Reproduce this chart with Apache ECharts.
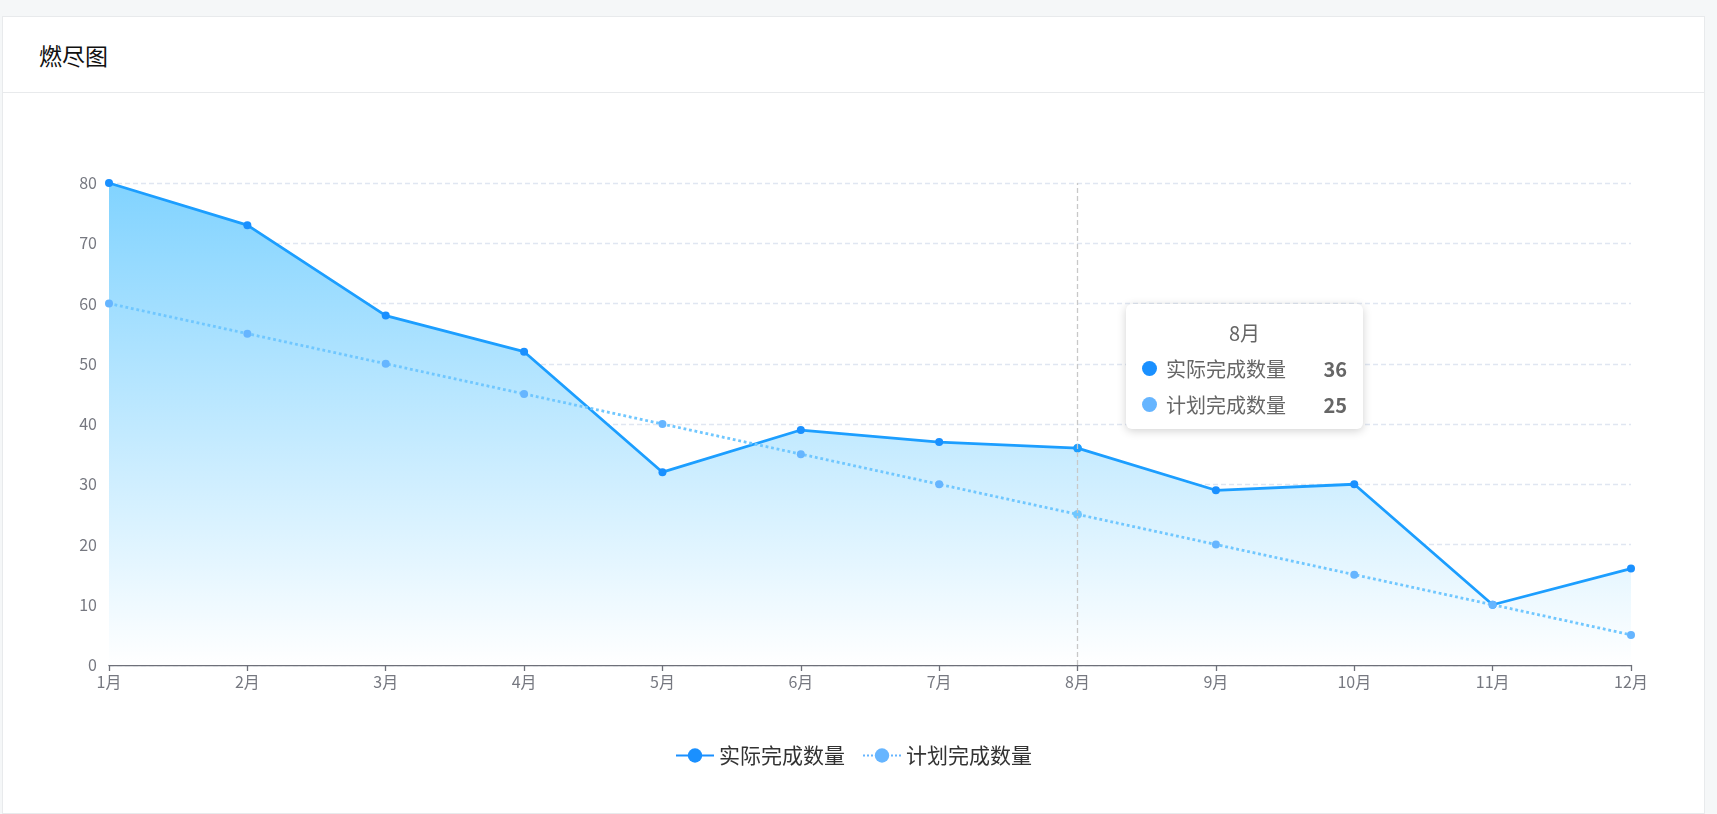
<!DOCTYPE html>
<html>
<head>
<meta charset="utf-8">
<script src="https://cdn.jsdelivr.net/npm/echarts@6/dist/echarts.min.js"></script>
<style>
  html, body { margin: 0; padding: 0; width: 1717px; height: 814px; background: #f5f7f8; overflow: hidden; font-family: "Noto Sans CJK SC", "Noto Sans", sans-serif; }
  #card { position: absolute; left: 2px; top: 16px; width: 1701px; height: 796px; background: #fff; border: 1px solid #e8eaec; }
  #header { position: absolute; left: 0; top: 0; width: 1701px; height: 75px; border-bottom: 1px solid #e8eaec; }
  #title { position: absolute; left: 36px; top: 22px; font-size: 23px; line-height: 32px; color: #111; }
  #chart { position: absolute; left: 0px; top: 76px; width: 1701px; height: 720px; }
</style>
</head>
<body>
<div id="card">
  <div id="header"><div id="title">燃尽图</div></div>
  <div id="chart"></div>
</div>
<script>
const categories = ['1月','2月','3月','4月','5月','6月','7月','8月','9月','10月','11月','12月'];
const actualValues = [80, 73, 58, 52, 32, 39, 37, 36, 29, 30, 10, 16];
const planValues = [60, 55, 50, 45, 40, 35, 30, 25, 20, 15, 10, 5];
const seriesNames = ['实际完成数量', '计划完成数量'];
const yTicks = { min: 0, max: 80, interval: 10 };

const colorActual = '#1a90ff';
const colorPlan = '#66b5ff';
const font = '"Noto Sans CJK SC", "Noto Sans", sans-serif';

const chart = echarts.init(document.getElementById('chart'));
chart.setOption({
  animation: false,
  textStyle: { fontFamily: font },
  grid: { left: 106, right: 73, top: 90, bottom: 148, containLabel: false },
  tooltip: {
    trigger: 'axis',
    alwaysShowContent: true,
    transitionDuration: 0,
    backgroundColor: '#fff',
    borderWidth: 0,
    padding: [14, 16, 7, 16],
    extraCssText: 'box-shadow: 0 2px 10px rgba(0,0,0,0.18); border-radius: 6px;',
    position: function () { return [1123, 211]; },
    axisPointer: { type: 'line', lineStyle: { color: '#c8c8c8', width: 1.3, type: [5, 3] } },
    formatter: function (params) {
      let html = '<div style="width:205px;font-family:' + font.replace(/"/g, "'") + ';color:#666;">';
      html += '<div style="text-align:center;font-size:20px;line-height:30px;margin-bottom:2px;">' + params[0].axisValue + '</div>';
      params.forEach(function (p) {
        html += '<div style="display:flex;align-items:center;height:36px;font-size:20px;">' +
          '<span style="display:inline-block;width:15px;height:15px;border-radius:50%;background:' + p.color + ';margin-right:9px;"></span>' +
          '<span>' + p.seriesName + '</span>' +
          '<span style="margin-left:auto;font-weight:bold;">' + p.value + '</span></div>';
      });
      html += '</div>';
      return html;
    }
  },
  legend: {
    data: seriesNames,
    bottom: 42,
    left: 'center',
    itemWidth: 38,
    itemHeight: 18,
    itemGap: 17,
    textStyle: { fontSize: 21, color: '#333', fontFamily: font }
  },
  xAxis: {
    type: 'category',
    data: categories,
    boundaryGap: false,
    axisLine: { lineStyle: { color: '#6e7079', width: 1.3 } },
    axisTick: { length: 6, lineStyle: { color: '#6e7079', width: 1.3 } },
    axisLabel: { fontSize: 16, color: '#767880', margin: 9, fontFamily: font }
  },
  yAxis: {
    type: 'value',
    min: yTicks.min,
    max: yTicks.max,
    interval: yTicks.interval,
    axisLine: { show: false },
    axisTick: { show: false },
    axisLabel: { fontSize: 16, color: '#767880', margin: 12, fontFamily: font },
    splitLine: { lineStyle: { color: '#e0e6f1', width: 1.3, type: [5, 3] } }
  },
  series: [
    {
      name: seriesNames[0],
      type: 'line',
      data: actualValues,
      symbol: 'circle',
      symbolSize: 8,
      color: colorActual,
      lineStyle: { width: 2.8, color: colorActual },
      itemStyle: { color: colorActual },
      areaStyle: {
        opacity: 1,
        color: new echarts.graphic.LinearGradient(0, 0, 0, 1, [
          { offset: 0, color: '#76c0ff' },
          { offset: 1, color: '#f0f8ff' }
        ])
      },
      z: 2
    },
    {
      name: seriesNames[1],
      type: 'line',
      data: planValues,
      symbol: 'circle',
      symbolSize: 8,
      color: colorPlan,
      lineStyle: { width: 2.8, color: colorPlan, type: 'dotted' },
      itemStyle: { color: colorPlan },
      z: 3
    }
  ]
});
chart.dispatchAction({ type: 'showTip', seriesIndex: 0, dataIndex: 7 });
</script>
</body>
</html>
